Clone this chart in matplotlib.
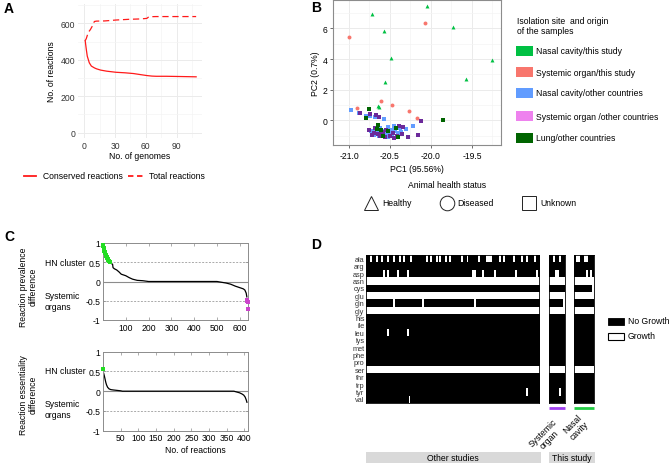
import numpy as np
import matplotlib
matplotlib.use('Agg')
import matplotlib.pyplot as plt
from matplotlib.colors import ListedColormap
from matplotlib.patches import Rectangle

plt.rcParams['font.family'] = ['Liberation Sans', 'DejaVu Sans']

W, H = 669, 464

# ---------------- data ----------------
# A: reactions vs genomes
cons_x = [1, 2, 3, 5, 7, 10, 12, 16, 22, 31, 40, 48, 55, 61, 66, 70, 80, 90, 100, 109]
cons_y = [505, 460, 420, 383, 365, 355, 350, 343, 337, 331, 328, 324, 318, 313, 310, 309, 309, 308, 307, 306]
tot_x = [1, 2, 4, 6, 8, 9, 10, 12, 20, 31, 44, 55, 61, 63, 70, 90, 109]
tot_y = [505, 515, 550, 565, 585, 600, 610, 612, 613, 618, 622, 624, 627, 636, 637, 637, 637]

# B: PCA
pca = {
    'Nasal cavity/this study': (
        [-20.72, -20.05, -20.57, -19.73, -20.49, -19.25, -19.57, -20.56, -20.65, -20.63],
        [6.93, 7.43, 5.85, 6.07, 4.07, 3.93, 2.72, 2.5, 0.93, 0.85]),
    'Systemic organ/this study': (
        [-21.0, -20.07, -20.61, -20.47, -20.9, -20.27, -20.17],
        [5.46, 6.33, 1.24, 1.02, 0.83, 0.61, 0.15]),
    'Nasal cavity/other countries': (
        [-20.98, -20.88, -20.79, -20.74, -20.68, -20.57, -20.22, -20.30, -20.36, -20.45,
         -20.52, -20.62, -20.73, -20.72, -20.68, -20.64, -20.60, -20.57, -20.55, -20.50,
         -20.47, -20.44, -20.40, -20.63, -20.70, -20.58, -20.52, -20.66, -20.48, -20.38],
        [0.65, 0.47, 0.27, 0.27, 0.22, 0.09, -0.39, -0.57, -0.74, -0.35,
         -0.45, -0.50, -0.72, -0.85, -0.60, -0.80, -0.95, -0.70, -0.88, -0.80,
         -0.95, -0.72, -0.85, -1.00, -0.95, -1.05, -1.10, -0.70, -0.60, -0.50]),
    'Systemic organ /other countries': (
        [-20.86, -20.74, -20.67, -20.63, -20.34, -20.12, -20.16, -20.28, -20.39, -20.75,
         -20.70, -20.65, -20.60, -20.55, -20.50, -20.46, -20.42, -20.68, -20.58, -20.53,
         -20.62, -20.72, -20.45, -20.35, -20.56],
        [0.46, 0.41, 0.35, 0.20, -0.41, -0.07, -0.96, -1.11, -0.35, -0.65,
         -0.80, -0.92, -0.75, -0.60, -1.00, -0.85, -1.00, -0.50, -0.85, -0.72,
         -1.05, -0.95, -1.15, -0.90, -1.12]),
    'Lung/other countries': (
        [-20.75, -19.85, -20.79, -20.65, -20.43, -20.40, -20.58, -20.61, -20.52, -20.66],
        [0.74, 0.0, 0.12, -0.29, -0.52, -1.07, -1.00, -0.63, -0.72, -0.55]),
}
pca_marker = ['^', 'o', 's', 's', 's']
pca_point_color = ['#00C043', '#F8766D', '#619CFF', '#6C2A9A', '#006400']
pca_key_color = ['#00C043', '#F8766D', '#619CFF', '#EE82EE', '#006400']
health = ['Healthy', 'Diseased', 'Unknown']

# C: prevalence difference (sorted)
prev_green_x = [1, 2, 3, 4, 6, 8, 10, 12, 14, 16, 18, 20, 23, 26, 29, 32]
prev_green_y = [0.95, 0.92, 0.88, 0.85, 0.80, 0.76, 0.74, 0.70, 0.66, 0.63, 0.61, 0.59, 0.56, 0.53, 0.51, 0.50]
prev_x = [32, 38, 42, 44, 50, 60, 70, 80, 90, 100, 115, 130, 150, 175, 200, 300, 400, 500,
          520, 540, 560, 580, 600, 615, 622, 628, 631]
prev_y = [0.50, 0.46, 0.45, 0.36, 0.33, 0.30, 0.25, 0.19, 0.17, 0.15, 0.10, 0.06, 0.03, 0.02, 0.0,
          0.0, 0.0, 0.0, -0.02, -0.04, -0.07, -0.12, -0.16, -0.19, -0.22, -0.30, -0.40]
prev_purple_x = [632, 633, 634, 635]
prev_purple_y = [-0.48, -0.50, -0.52, -0.72]

ess_green_x = [1]
ess_green_y = [0.55]
ess_x = [2, 4, 6, 8, 10, 13, 17, 22, 30, 40, 50, 55, 370, 378, 386, 393, 398, 402, 405, 407]
ess_y = [0.45, 0.38, 0.30, 0.22, 0.16, 0.10, 0.06, 0.04, 0.03, 0.02, 0.01, 0.0, 0.0,
         -0.02, -0.04, -0.07, -0.10, -0.15, -0.22, -0.28]

# D: amino acid growth (white = growth)
amino = ['ala', 'arg', 'asp', 'asn', 'cys', 'glu', 'gln', 'gly', 'his', 'ile',
         'leu', 'lys', 'met', 'phe', 'pro', 'ser', 'thr', 'trp', 'tyr', 'val']
growth_rows = ['asn', 'glu', 'gly', 'ser']
n_other, n_sys, n_nasal = 90, 8, 10
other_white = {'ala': [2, 5, 8, 11, 14, 17, 19, 23, 31, 33, 36, 38, 41, 43, 49, 52, 58, 62, 63, 64,
                       69, 71, 76, 80, 83, 87],
               'asp': [9, 11, 16, 21, 55, 56, 60, 66, 77, 88],
               'gln': [14, 29, 56], 'leu': [11, 21], 'tyr': [83], 'val': [22]}
sys_white = {'ala': [2, 5], 'asp': [3, 4], 'gln': [7], 'tyr': [5]}
nasal_white = {'ala': [1, 2, 5, 6], 'asp': [6, 8], 'cys': [9]}


def growth_matrix(n, whites):
    m = np.ones((len(amino), n))
    for i, a in enumerate(amino):
        if a in growth_rows:
            m[i, :] = 0
        for c in whites.get(a, []):
            m[i, c] = 0
    return m


# ---------------- figure ----------------
fig = plt.figure(figsize=(W / 100, H / 100), dpi=100)


def px_axes(x0, y0, x1, y1, **kw):
    return fig.add_axes([x0 / W, 1 - y1 / H, (x1 - x0) / W, (y1 - y0) / H], **kw)


FS = 6.2
RED = '#FF1A1A'

# ----- A -----
axA = px_axes(78, 5, 202, 139)
axA.set_xlim(-6, 114.7)
axA.set_ylim(-30, 706)
axA.set_xticks([0, 30, 60, 90])
axA.set_yticks([0, 200, 400, 600])
axA.set_xticks([15, 45, 75, 105], minor=True)
axA.set_yticks([100, 300, 500, 700], minor=True)
axA.grid(True, which='major', color='#EBEBEB', lw=0.7)
axA.grid(True, which='minor', color='#F4F4F4', lw=0.5)
for s in axA.spines.values():
    s.set_visible(False)
axA.tick_params(which='both', length=0, labelsize=FS, pad=2, colors='#333333')
axA.plot(cons_x, cons_y, color=RED, lw=0.9)
axA.plot(tot_x, tot_y, color=RED, lw=0.9, dashes=(5, 3))
axA.set_xlabel('No. of genomes', fontsize=FS, labelpad=1)
axA.set_ylabel('No. of reactions', fontsize=FS, labelpad=3)

# ----- B -----
axB = px_axes(333, 1, 501, 146)
axB.set_xlim(-21.195, -19.146)
axB.set_ylim(-1.61, 7.85)
axB.set_xticks([-21.0, -20.5, -20.0, -19.5])
axB.set_xticklabels(['-21.0', '-20.5', '-20.0', '-19.5'])
axB.set_yticks([0, 2, 4, 6])
axB.set_xticks([-20.75, -20.25, -19.75, -19.25], minor=True)
axB.set_yticks([-1, 1, 3, 5, 7], minor=True)
axB.grid(True, which='major', color='#EBEBEB', lw=0.7)
axB.grid(True, which='minor', color='#F4F4F4', lw=0.5)
axB.set_axisbelow(True)
for s in axB.spines.values():
    s.set_color('#8C8C8C')
    s.set_linewidth(0.8)
axB.tick_params(which='major', length=2, width=0.6, color='#555555', labelsize=FS, pad=2)
axB.tick_params(which='minor', length=0)
for (name, (xs, ys)), mk, col in zip(pca.items(), pca_marker, pca_point_color):
    axB.scatter(xs, ys, marker=mk, s=8, color=col, linewidths=0, zorder=3)
axB.set_xlabel('PC1 (95.56%)', fontsize=FS, labelpad=3)
axB.set_ylabel('PC2 (0.7%)', fontsize=FS, labelpad=2)

# ----- C -----
GRAY = '#8C8C8C'


def style_c(ax):
    ax.set_ylim(-1, 1)
    ax.set_yticks([-1, -0.5, 0, 0.5, 1])
    ax.set_yticklabels(['-1', '-0.5', '0', '0.5', '1'])
    ax.axhline(0.5, color='#AAAAAA', lw=0.7, dashes=(2, 1.5), zorder=1)
    ax.axhline(-0.5, color='#AAAAAA', lw=0.7, dashes=(2, 1.5), zorder=1)
    ax.axhline(0, color=GRAY, lw=0.8, zorder=1)
    for s in ax.spines.values():
        s.set_color(GRAY)
        s.set_linewidth(0.7)
    ax.tick_params(direction='in', length=2, width=0.5, color=GRAY, labelsize=FS, pad=2,
                   top=True, right=True)


axC1 = px_axes(103, 244, 248, 321)
style_c(axC1)
axC1.set_xlim(0, 636)
axC1.set_xticks([100, 200, 300, 400, 500, 600])
axC1.plot(prev_x, prev_y, color='black', lw=0.9, zorder=2)
axC1.plot(prev_green_x, prev_green_y, 's', color='#22DD22', ms=2.2, mew=0, zorder=3, clip_on=False)
axC1.plot(prev_purple_x, prev_purple_y, 's', color='#CC44CC', ms=2.2, mew=0, zorder=3, clip_on=False)

axC2 = px_axes(103, 352.7, 248, 431.7)
style_c(axC2)
axC2.set_xlim(0, 410)
axC2.set_xticks([50, 100, 150, 200, 250, 300, 350, 400])
axC2.plot(ess_x, ess_y, color='black', lw=0.9, zorder=2)
axC2.plot(ess_green_x, ess_green_y, 's', color='#22DD22', ms=2.2, mew=0, zorder=3, clip_on=False)

# ----- D -----
cmap = ListedColormap(['white', 'black'])
blocks = [(366, 539.3, n_other, other_white),
          (549, 565, n_sys, sys_white),
          (574.3, 594, n_nasal, nasal_white)]
for k, (x0, x1, n, wh) in enumerate(blocks):
    ax = px_axes(x0, 255.7, x1, 403.7)
    ax.imshow(growth_matrix(n, wh), cmap=cmap, vmin=0, vmax=1, aspect='auto',
              interpolation='nearest')
    ax.set_xticks([])
    for s in ax.spines.values():
        s.set_linewidth(0.6)
    if k == 0:
        ax.set_yticks(range(len(amino)))
        ax.set_yticklabels(amino, fontsize=5.3)
        ax.tick_params(axis='y', length=0, pad=1)
        for t in ax.get_yticklabels():
            t.set_color('#333333')
    else:
        ax.set_yticks([])

# ----- overlay for labels and legends -----
ov = fig.add_axes([0, 0, 1, 1], zorder=10)
ov.set_xlim(0, W)
ov.set_ylim(H, 0)
ov.axis('off')

for letter, (x, y) in zip('ABCD', [(4, 9), (311, 8), (4, 237), (311, 245)]):
    ov.text(x, y, letter, fontsize=10, fontweight='bold', va='center', ha='left')

# A legend
ov.plot([24, 36], [177, 177], color=RED, lw=1.3)
ov.text(43, 177, 'Conserved reactions', fontsize=FS, va='center')
ov.plot([128, 144], [177, 177], color=RED, lw=1.3, dashes=(3, 2))
ov.text(149, 177, 'Total reactions', fontsize=FS, va='center')

# B legends
ov.text(517, 21, 'Isolation site  and origin', fontsize=FS, va='center')
ov.text(517, 31, 'of the samples', fontsize=FS, va='center')
for name, col, yc in zip(pca.keys(), pca_key_color, [52, 73, 94, 117, 139]):
    ov.add_patch(Rectangle((516, yc - 5), 17, 10, facecolor=col, edgecolor='none'))
    ov.text(536, yc, name, fontsize=FS, va='center')
ov.text(447, 186, 'Animal health status', fontsize=FS, va='center', ha='center')
for mk, lab, xm in zip(['^', 'o', 's'], health, [371, 446.5, 529]):
    ov.plot([xm], [203.5], marker=mk, ms=10.5 if mk != 's' else 9.5, mfc='white',
            mec='#222222', mew=0.7, ls='none')
    ov.text(xm + 11, 203.5, lab, fontsize=FS, va='center')

# C labels
ov.text(28, 287, 'Reaction prevalence\ndifference', fontsize=FS, rotation=90,
        ha='center', va='center', multialignment='center', linespacing=1.1)
ov.text(28, 395, 'Reaction essentiality\ndifference', fontsize=FS, rotation=90,
        ha='center', va='center', multialignment='center', linespacing=1.1)
for yc in [264, 372]:
    ov.text(45, yc, 'HN cluster', fontsize=FS, va='center')
for yc in [302, 410]:
    ov.text(45, yc, 'Systemic\norgans', fontsize=FS, va='center', linespacing=1.3)
ov.text(195, 451, 'No. of reactions', fontsize=FS, va='center', ha='center')

# D annotations
ov.plot([549, 565], [409, 409], color='#A040F0', lw=2.0, solid_capstyle='butt')
ov.plot([574.3, 594], [409, 409], color='#22CC44', lw=2.0, solid_capstyle='butt')
ov.text(546, 437, 'Systemic\norgan', fontsize=FS, rotation=45, ha='center', va='center',
        multialignment='center', rotation_mode='anchor', linespacing=1.1)
ov.text(576, 428, 'Nasal\ncavity', fontsize=FS, rotation=45, ha='center', va='center',
        multialignment='center', rotation_mode='anchor', linespacing=1.1)
ov.add_patch(Rectangle((366, 453), 174.7, 11, facecolor='#D9D9D9', edgecolor='none'))
ov.add_patch(Rectangle((549, 453), 46, 11, facecolor='#D9D9D9', edgecolor='none'))
ov.text(453, 459, 'Other studies', fontsize=FS, ha='center', va='center')
ov.text(572, 459, 'This study', fontsize=FS, ha='center', va='center')
ov.add_patch(Rectangle((608, 319), 16, 6.5, facecolor='black', edgecolor='black', lw=0.6))
ov.text(628, 322, 'No Growth', fontsize=FS, va='center')
ov.add_patch(Rectangle((608, 334), 16, 6.5, facecolor='white', edgecolor='black', lw=0.8))
ov.text(628, 337, 'Growth', fontsize=FS, va='center')

fig.savefig('out.png', dpi=100)
